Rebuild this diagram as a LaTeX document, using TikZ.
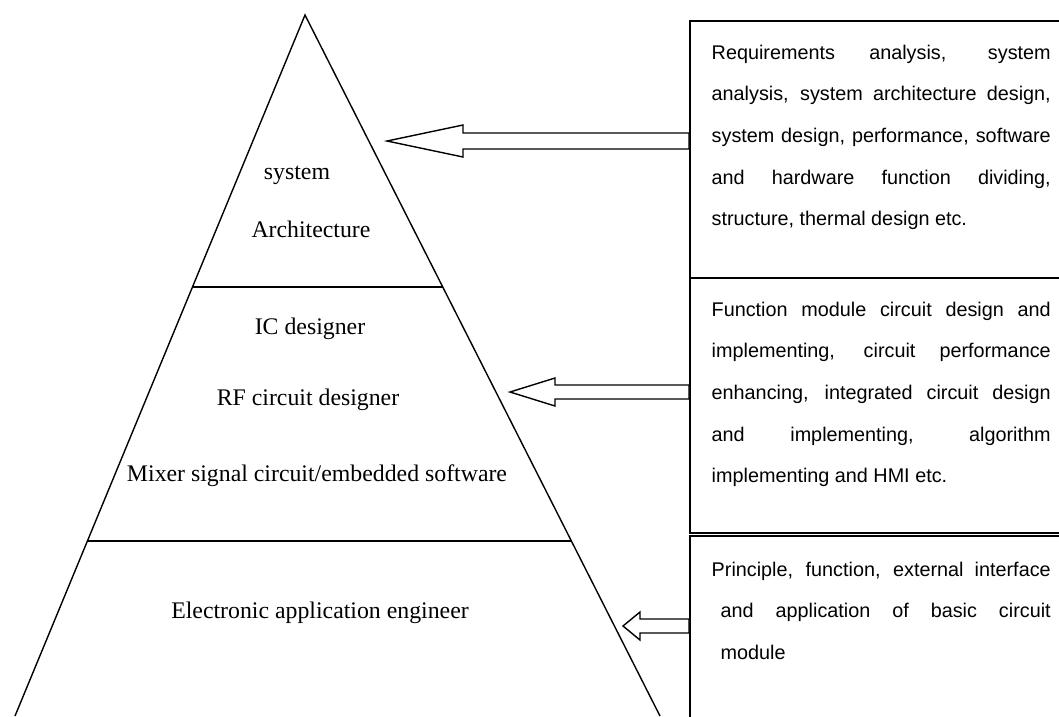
\documentclass[tikz,border=0pt]{standalone}
\usepackage{fontspec}
\setmainfont{Liberation Serif}
\newfontfamily\arialf{Liberation Sans}
\usetikzlibrary{calc}
\begin{document}
\begin{tikzpicture}[x=1pt,y=-1pt, line width=1.4pt,
  lbl/.style={anchor=base, inner sep=0pt, font=\fontsize{23.8pt}{28pt}\selectfont},
  desc/.style={anchor=base west, inner sep=0pt, font=\arialf\fontsize{19.8pt}{41.7pt}\selectfont},
  boxst/.style={draw, line width=1.8pt, anchor=north west, minimum width=420pt, inner sep=0pt},
  blockarrow/.style={draw, fill=white, line width=1.4pt, line join=miter}]
\useasboundingbox (0,0) rectangle (1059,716);
\begin{scope}
\clip (0,0) rectangle (1059,716);
% pyramid
\coordinate (apex) at (305,15);
\coordinate (bl) at (15,716);
\coordinate (br) at (660,716);
\draw (bl) -- (apex) -- (br);
\draw ($(apex)!0.388!(bl)$) -- ($(apex)!0.388!(br)$);
\draw ($(apex)!0.7504!(bl)$) -- ($(apex)!0.7504!(br)$);
% labels
\node[lbl] (sys) at (297,179) {system};
\node[lbl] (arch) at (311,237) {Architecture};
\node[lbl] (ic) at (310,334) {IC designer};
\node[lbl] (rf) at (308,405) {RF circuit designer};
\node[lbl] (mix) at (317,481) {Mixer signal circuit/embedded software};
\node[lbl] (ele) at (320,618) {Electronic application engineer};
% boxes
\node[boxst, minimum height=257pt] (b1) at (689,20) {};
\node[boxst, minimum height=255pt] (b2) at (689,277) {};
\node[boxst, minimum height=220pt] (b3) at (689,535) {};
% texts
\node[desc] (d1) at (711,59) {\parbox[t]{339pt}{%
\makebox[339pt][s]{Requirements analysis, system}\\
\makebox[339pt][s]{analysis, system architecture design,}\\
\makebox[339pt][s]{system design, performance, software}\\
\makebox[339pt][s]{and hardware function dividing,}\\
structure, thermal design etc.}};
\node[desc] (d2) at (711,316) {\parbox[t]{339pt}{%
\makebox[339pt][s]{Function module circuit design and}\\
\makebox[339pt][s]{implementing, circuit performance}\\
\makebox[339pt][s]{enhancing, integrated circuit design}\\
\makebox[339pt][s]{and implementing, algorithm}\\
implementing and HMI etc.}};
\node[desc] (d3) at (711,576) {\parbox[t]{339pt}{%
\makebox[339pt][s]{Principle, function, external interface}\\
\hspace*{9pt}\makebox[330pt][s]{and application of basic circuit}\\
\hspace*{9pt}module}};
% arrows
\coordinate (t1) at (387,141);
\coordinate (h1) at (463,141);
\draw[blockarrow] (t1) -- ([yshift=16pt]h1) -- ([yshift=8pt]h1) -- ([yshift=8pt]h1 -| b1.west)
  -- ([yshift=-8pt]h1 -| b1.west) -- ([yshift=-8pt]h1) -- ([yshift=-16pt]h1) -- cycle;
\coordinate (t2) at (510,392);
\coordinate (h2) at (555,392);
\draw[blockarrow] (t2) -- ([yshift=14pt]h2) -- ([yshift=7pt]h2) -- ([yshift=7pt]h2 -| b2.west)
  -- ([yshift=-7pt]h2 -| b2.west) -- ([yshift=-7pt]h2) -- ([yshift=-14pt]h2) -- cycle;
\coordinate (t3) at (623,626);
\coordinate (h3) at (640,626);
\draw[blockarrow] (t3) -- ([yshift=14pt]h3) -- ([yshift=7pt]h3) -- ([yshift=7pt]h3 -| b3.west)
  -- ([yshift=-7pt]h3 -| b3.west) -- ([yshift=-7pt]h3) -- ([yshift=-14pt]h3) -- cycle;
\end{scope}
\end{tikzpicture}
\end{document}
